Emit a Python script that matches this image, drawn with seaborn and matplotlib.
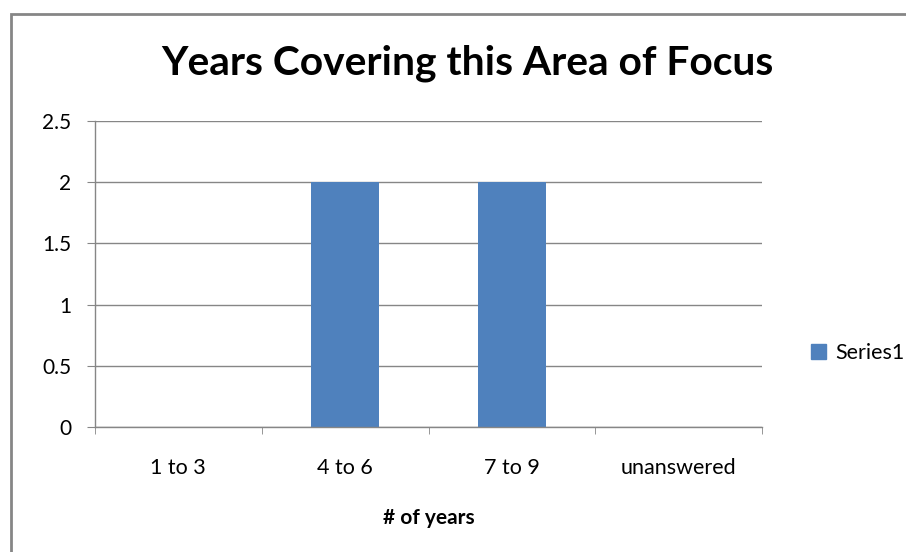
import pandas as pd
import matplotlib.pyplot as plt
import matplotlib.patches as mpatches
import seaborn as sns

# Chart data
categories = ['1 to 3', '4 to 6', '7 to 9', 'unanswered']
counts = [0, 2, 2, 0]
series_name = 'Series1'

df = pd.DataFrame({'years': categories, 'count': counts})

sns.set_style('white')
plt.rcParams['font.family'] = ['Lato', 'DejaVu Sans']
plt.rcParams['text.color'] = 'black'
plt.rcParams['xtick.color'] = 'black'
plt.rcParams['ytick.color'] = 'black'
plt.rcParams['axes.labelcolor'] = 'black'

fig = plt.figure(figsize=(9.06, 5.52), dpi=100)
ax = fig.add_axes([95 / 906, 1 - 427 / 552, 667 / 906, 306 / 552])

bar_color = '#4F81BD'
grid_color = '#868686'
sns.barplot(data=df, x='years', y='count', color=bar_color, width=0.41,
            saturation=1, ax=ax, linewidth=0, edgecolor='none')

# Axis range and gridlines
ax.set_xlim(-0.5, len(categories) - 0.5)
ax.set_ylim(0, 2.5)
ax.set_yticks([0, 0.5, 1, 1.5, 2, 2.5])
ax.set_yticklabels(['0', '0.5', '1', '1.5', '2', '2.5'])
ax.yaxis.grid(True, color=grid_color, linewidth=1)
ax.set_axisbelow(True)

for side in ['top', 'right']:
    ax.spines[side].set_visible(False)
for side in ['left', 'bottom']:
    ax.spines[side].set_color(grid_color)
    ax.spines[side].set_linewidth(1)

# Ticks: y ticks outward, x ticks at category boundaries
ax.tick_params(axis='y', length=6, color=grid_color, labelsize=15, pad=11, left=True)
ax.set_xticks(range(len(categories)))
ax.set_xticks([i - 0.5 for i in range(len(categories) + 1)], minor=True)
ax.tick_params(axis='x', which='major', length=0, labelsize=15.5, pad=22)
ax.tick_params(axis='x', which='minor', length=5, color=grid_color, bottom=True)

ax.set_xlabel('# of years', fontsize=15, fontweight='bold', labelpad=22)
ax.set_ylabel('')
fig.suptitle('Years Covering this Area of Focus', fontsize=29.3, fontweight='bold',
             x=467 / 906, y=1 - 63 / 552, va='center')

handles = [mpatches.Patch(color=bar_color, label=series_name)]
fig.legend(handles=handles, loc='center left', bbox_to_anchor=(792 / 906, 1 - 353 / 552),
           frameon=False, fontsize=15.5, handlelength=0.7, handleheight=0.7,
           handletextpad=0.4)

# Outer chart border
fig.patches.append(mpatches.Rectangle((11 / 906, -0.05), 1.1, 1 - 14 / 552 + 0.05,
                                      transform=fig.transFigure, fill=False,
                                      edgecolor=grid_color, linewidth=2))

fig.savefig('out.png', dpi=100)
